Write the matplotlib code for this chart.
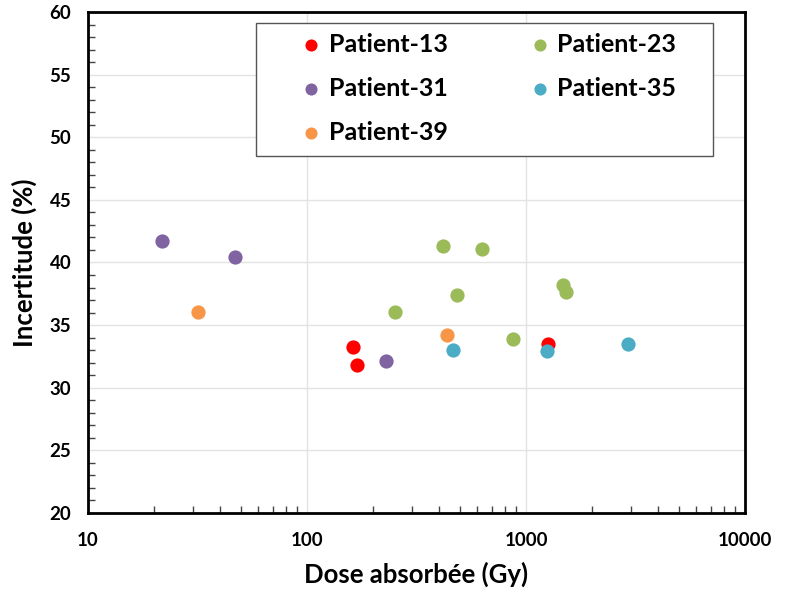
import matplotlib
matplotlib.use("Agg")
import matplotlib.pyplot as plt
from matplotlib.ticker import LogLocator, MultipleLocator, FixedLocator, FuncFormatter
from matplotlib.patches import Rectangle

plt.rcParams['font.family'] = ['Lato', 'DejaVu Sans']

# valeurs
p13_dose = [162, 169, 1256]
p13_inc = [33.25, 31.8, 33.5]
p23_dose = [252, 417, 484, 628, 869, 1475, 1517]
p23_inc = [36.05, 41.3, 37.4, 41.05, 33.9, 38.2, 37.65]
p31_dose = [21.7, 47.1, 230]
p31_inc = [41.7, 40.45, 32.1]
p35_dose = [466, 1248, 2912]
p35_inc = [33.0, 32.95, 33.5]
p39_dose = [31.9, 434]
p39_inc = [36.05, 34.2]

series = [
    ("Patient-13", p13_dose, p13_inc, "#FF0000"),
    ("Patient-23", p23_dose, p23_inc, "#9BBB59"),
    ("Patient-31", p31_dose, p31_inc, "#8064A2"),
    ("Patient-35", p35_dose, p35_inc, "#4BACC6"),
    ("Patient-39", p39_dose, p39_inc, "#F79646"),
]

fig = plt.figure(figsize=(7.88, 5.96), dpi=100)
ax = fig.add_axes([0.1117, 0.1393, 0.8338, 0.8406])

handles = {}
for name, xs, ys, c in series:
    handles[name] = ax.scatter(xs, ys, s=105, color=c, label=name, zorder=3, linewidths=0)

ax.set_xscale('log')
ax.set_xlim(10, 10000)
ax.set_ylim(20, 60)
ax.yaxis.set_major_locator(MultipleLocator(5))
ax.yaxis.set_minor_locator(MultipleLocator(1))
ax.xaxis.set_major_locator(FixedLocator([10, 100, 1000, 10000]))
ax.xaxis.set_minor_locator(LogLocator(base=10, subs=range(2, 10)))
ax.xaxis.set_major_formatter(FuncFormatter(lambda v, p: f"{v:.0f}"))

ax.grid(True, which='major', color='#e3e3e3', linewidth=1, zorder=0)
ax.set_axisbelow(True)
for sp in ax.spines.values():
    sp.set_linewidth(2)
    sp.set_color('black')

ax.tick_params(which='major', length=0, labelsize=13.5, pad=14)
ax.tick_params(axis='y', which='major', pad=12)
ax.tick_params(which='minor', direction='in', length=5, width=1, color='#444444')
for lbl in ax.get_xticklabels() + ax.get_yticklabels():
    lbl.set_fontweight('bold')

ax.set_xlabel("Dose absorbée (Gy)", fontsize=18.5, fontweight='bold', labelpad=9)
ax.set_ylabel("Incertitude (%)", fontsize=18.5, fontweight='bold', labelpad=9)

# legende en lignes : 13, 23 / 31, 35 / 39
order = ["Patient-13", "Patient-31", "Patient-39", "Patient-23", "Patient-35"]
leg = ax.legend([handles[n] for n in order], order, ncol=2, loc='upper left',
                bbox_to_anchor=(0.3204, 0.958), borderaxespad=0, borderpad=0,
                prop={'size': 18, 'weight': 'bold'}, frameon=False,
                markerscale=0.85, handletextpad=0.2, columnspacing=3.2,
                labelspacing=0.83, handlelength=1.0)
ax.add_patch(Rectangle((0.2557, 0.7126), 0.6956, 0.2655, transform=ax.transAxes,
                       facecolor='white', edgecolor='#555555', linewidth=1, zorder=4))
leg.set_zorder(5)

fig.savefig("out.png", dpi=100)
